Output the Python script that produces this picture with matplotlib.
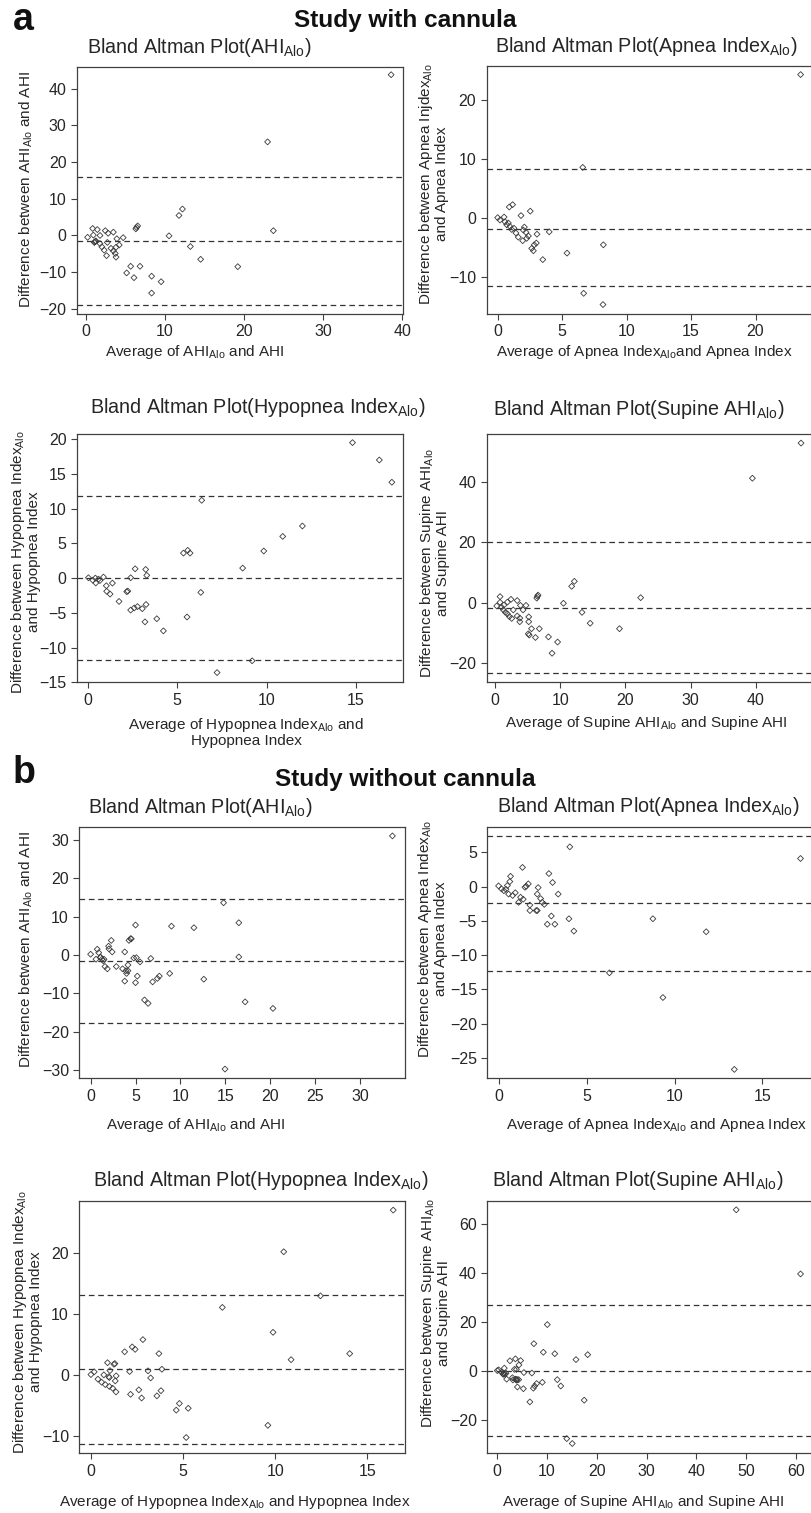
import numpy as np
import matplotlib
matplotlib.use("Agg")
import matplotlib.pyplot as plt

plt.rcParams['font.family'] = ['Liberation Sans', 'DejaVu Sans']
plt.rcParams['mathtext.fontset'] = 'custom'
plt.rcParams['mathtext.rm'] = 'Liberation Sans'
plt.rcParams['mathtext.it'] = 'Liberation Sans:italic'
plt.rcParams['mathtext.bf'] = 'Liberation Sans:bold'

W, H = 811, 1513
TXT = '#262626'
EDGE = '#3a3a3a'
SUB = r'$_{\mathrm{Alo}}$'

# --- a: study with cannula ---
ahi_c_avg = [38.6, 22.97, 23.7, 12.2, 11.76, 10.5, 13.2, 14.5, 19.2, 6.53, 6.3, 6.4, 5.14, 5.65,
             6.07, 6.83, 8.3, 8.3, 9.5, 4.7, 0.2, 0.84, 1.43, 0.93, 1.05, 1.25, 1.77, 1.77, 2.0, 2.3,
             2.6, 2.44, 2.8, 2.7, 3.46, 3.16, 3.46, 3.7, 3.8, 3.9, 4.2, 3.8, 1.2, 1.1]
ahi_c_diff = [43.8, 25.5, 1.3, 7.2, 5.45, -0.1, -3.0, -6.5, -8.5, 2.6, 1.8, 2.2, -10.2, -8.4,
              -11.5, -8.4, -11.1, -15.7, -12.6, -0.6, -0.5, 1.9, 1.6, 0.1, -1.9, -1.5, 0.0, -2.2, -3.1, -4.0,
              -5.5, 1.3, 0.6, -1.9, 0.9, -3.5, -4.2, -4.9, -5.9, -0.9, -2.6, -3.2, -1.6, -1.8]
ahi_c_lines = [15.8, -1.55, -18.9]

apnea_c_avg = [23.5, 6.6, 8.2, 6.67, 8.17, 5.38, 3.5, 4.0, 3.05, 3.0, 2.84, 2.64, 2.77, 2.53, 1.81,
               1.16, 0.9, 0.0, 0.18, 0.5, 0.57, 0.83, 0.7, 0.96, 1.09, 1.27, 1.42, 1.6, 1.99, 2.07,
               2.2, 1.94, 2.25, 2.38]
apnea_c_diff = [24.3, 8.6, -4.5, -12.7, -14.6, -5.9, -7.0, -2.3, -2.7, -4.2, -4.5, -5.1, -5.5, 1.2, 0.45,
                2.3, 1.9, 0.1, -0.3, 0.2, -0.6, -0.8, -1.1, -1.4, -1.9, -1.7, -2.5, -3.2, -2.0, -1.5,
                -2.4, -3.8, -3.4, -3.0]
apnea_c_lines = [8.3, -1.75, -11.45]

hypo_c_avg = [14.8, 16.3, 17.0, 6.37, 12.0, 10.9, 9.84, 8.66, 5.35, 5.59, 5.72, 6.32, 5.55, 7.23, 9.19,
              3.86, 4.23, 3.2, 3.26, 3.05, 2.78, 2.6, 2.4, 2.65, 3.24, 3.3, 2.4, 2.24, 2.18, 1.75, 1.38,
              1.04, 1.06, 1.25, 0.04, 0.28, 0.43, 0.45, 0.6, 0.68, 0.88]
hypo_c_diff = [19.5, 17.0, 13.8, 11.2, 7.5, 6.0, 3.9, 1.44, 3.6, 4.0, 3.6, -2.06, -5.6, -13.6, -11.9,
               -5.85, -7.6, -6.3, -3.8, -4.4, -4.1, -4.3, -4.6, 1.34, 1.25, 0.4, 0.05, -1.87, -1.95, -3.36, -0.72,
               -1.1, -1.9, -2.3, 0.05, -0.3, 0.0, -0.7, -0.15, -0.35, 0.15]
hypo_c_lines = [11.8, 0.0, -11.8]

sup_c_avg = [46.96, 39.5, 22.35, 19.1, 14.6, 13.35, 12.17, 11.76, 10.5, 9.6, 8.75, 8.2, 6.8, 6.2, 5.6,
             5.1, 5.25, 5.17, 5.17, 6.6, 6.4, 6.5, 4.75, 4.3, 3.8, 3.8, 3.4, 3.4, 3.9, 2.8, 2.45, 1.9,
             0.77, 0.26, 0.77, 1.0, 1.28, 1.59, 1.9, 2.2, 2.56, 1.36]
sup_c_diff = [52.7, 41.1, 1.65, -8.6, -6.8, -3.2, 7.05, 5.4, -0.2, -13.0, -16.7, -11.3, -8.6, -11.5, -8.6,
              -10.3, -10.7, -4.7, -6.3, 2.5, 1.5, 2.1, -0.9, -2.4, -6.3, -5.1, -4.4, 0.7, -0.9, -2.4, 1.1, 0.2,
              2.0, -1.1, 0.1, -1.5, -2.4, -3.2, -3.7, -4.6, -5.2, -0.8]
sup_c_lines = [20.0, -1.76, -23.3]

# --- b: study without cannula ---
ahi_n_avg = [33.6, 14.8, 14.96, 16.5, 16.5, 17.2, 20.3, 12.6, 11.5, 9.0, 8.8, 7.65, 7.43, 6.9, 6.7,
             6.4, 6.0, 5.5, 5.2, 5.1, 5.0, 4.8, 5.0, 4.45, 4.27, 4.53, 4.16, 4.16, 3.8, 3.8, 3.56, 3.93,
             4.0, 2.86, 2.3, 2.4, 2.0, 2.04, 1.86, 1.6, 1.26, 1.41, 1.11, 1.49, 0.74, 0.9, 1.1, 0.6, 0.0]
ahi_n_diff = [31.0, 13.6, -29.7, 8.4, -0.5, -12.2, -13.9, -6.3, 7.1, 7.5, -4.8, -5.5, -6.1, -7.0, -0.9,
              -12.6, -11.7, -1.8, -5.5, -0.7, 7.8, -0.8, -7.2, 4.25, 3.8, 4.2, -2.6, -4.1, -6.8, 0.8, -3.6, -4.1,
              -4.8, -3.0, 3.8, 0.8, 2.3, 1.6, -3.6, -3.0, -1.1, -1.5, -0.6, -1.1, 1.5, 0.6, -0.6, -1.1, 0.2]
ahi_n_lines = [14.5, -1.5, -17.8]

apnea_n_avg = [17.16, 4.05, 8.77, 11.8, 6.3, 9.34, 13.4, 1.36, 2.86, 3.07, 3.39, 4.0, 3.0, 2.77, 3.2,
               4.28, 2.25, 2.2, 2.39, 2.48, 2.6, 2.2, 2.14, 1.78, 1.78, 1.69, 1.57, 1.5, 1.4, 1.25, 1.14,
               0.95, 0.8, 0.68, 0.64, 0.5, 0.42, 0.57, 0.3, 0.0, 0.17]
apnea_n_diff = [4.1, 5.8, -4.7, -6.6, -12.6, -16.2, -26.7, 2.8, 1.9, 0.6, -1.1, -4.7, -4.3, -5.5, -5.5,
                -6.5, -0.15, -1.1, -1.75, -2.3, -2.6, -3.5, -3.5, -3.5, -2.7, 0.4, 0.05, -0.1, -1.85, -1.56, -2.3,
                -0.9, -1.3, 1.5, 0.73, 0.15, -0.4, -1.1, -0.6, 0.1, -0.34]
apnea_n_lines = [7.4, -2.4, -12.3]

hypo_n_avg = [16.4, 10.46, 12.45, 7.13, 9.88, 10.86, 14.04, 9.6, 5.17, 4.63, 4.8, 5.28, 2.82, 2.24, 2.4,
              1.83, 3.69, 3.1, 3.24, 3.85, 3.8, 3.58, 2.75, 2.6, 2.15, 2.1, 0.9, 1.3, 1.25, 1.37, 1.32,
              1.36, 1.18, 1.0, 0.78, 0.58, 0.38, 1.03, 0.7, 1.0, 0.18, 0.0, 0.97]
hypo_n_diff = [27.1, 20.25, 13.0, 11.1, 7.0, 2.5, 3.5, -8.3, -10.3, -5.8, -4.7, -5.5, 5.8, 4.6, 4.2,
               3.8, 3.5, 0.66, -0.5, 0.93, -2.6, -3.45, -3.8, -2.46, -3.2, 0.55, 2.0, 1.86, 1.75, -0.16, -1.0,
               -2.8, -2.2, -1.9, -1.6, -1.2, -0.7, 0.7, 0.0, -0.44, 0.5, 0.05, -0.3]
hypo_n_lines = [13.1, 1.0, -11.3]

sup_n_avg = [48.0, 60.9, 10.1, 7.4, 9.3, 11.6, 15.85, 18.2, 17.5, 14.0, 15.1, 12.1, 12.8, 9.1, 6.6,
             7.0, 7.3, 7.55, 7.96, 5.3, 5.4, 4.75, 4.4, 3.7, 3.9, 3.5, 4.1, 4.35, 3.95, 3.7, 2.6, 3.1,
             1.94, 1.47, 1.6, 1.8, 1.4, 0.94, 0.33, 0.07, 1.2, 3.2, 3.9, 1.3, 4.0]
sup_n_diff = [65.7, 39.5, 18.8, 11.0, 7.5, 6.9, 4.5, 6.5, -12.1, -27.8, -29.8, -3.7, -6.3, -4.8, -12.8,
              -1.0, -7.2, -6.3, -5.3, -7.4, -0.8, 4.1, 2.3, 4.8, 0.5, 0.5, -6.7, -3.7, -3.8, -3.5, 4.0, -2.9,
              -3.5, 1.0, -1.5, -1.1, -1.1, -0.7, 0.3, 0.0, -1.4, -3.8, -3.9, -1.5, -3.6]
sup_n_lines = [26.6, 0.0, -26.8]

# panel setup: data, axes box in px (left, right, top, bottom), limits, ticks, titles, labels
panels = [
    dict(x=ahi_c_avg, y=ahi_c_diff, lines=ahi_c_lines, box=(77, 403, 67, 314),
         xlim=(-1.14, 40.1), ylim=(-21.4, 45.9), xt=np.arange(0, 41, 10), yt=np.arange(-20, 41, 10),
         title=('Bland Altman Plot(AHI' + SUB + ')', 87, 52.7),
         xlab=('Average of AHI' + SUB + ' and AHI', 195, 352),
         ylab=('Difference between AHI' + SUB + ' and AHI', 26, 190)),
    dict(x=apnea_c_avg, y=apnea_c_diff, lines=apnea_c_lines, box=(486.7, 813, 66.3, 314),
         xlim=(-0.85, 24.46), ylim=(-16.2, 25.7), xt=np.arange(0, 21, 5), yt=np.arange(-10, 21, 10),
         title=('Bland Altman Plot(Apnea Index' + SUB + ')', 495, 51.7),
         xlab=('Average of Apnea Index' + SUB + 'and Apnea Index', 644, 352),
         ylab=('Difference between Apnea Injdex' + SUB + '\nand Apnea Index', 433, 184)),
    dict(x=hypo_c_avg, y=hypo_c_diff, lines=hypo_c_lines, box=(77, 403.3, 434.3, 682.3),
         xlim=(-0.6, 17.64), ylim=(-15.0, 20.7), xt=np.arange(0, 16, 5), yt=np.arange(-15, 21, 5),
         title=('Bland Altman Plot(Hypopnea Index' + SUB + ')', 90, 413.3),
         xlab=('Average of Hypopnea Index' + SUB + ' and\nHypopnea Index', 246, 732),
         ylab=('Difference between Hypopnea Index' + SUB + '\nand Hypopnea Index', 25.5, 562)),
    dict(x=sup_c_avg, y=sup_c_diff, lines=sup_c_lines, box=(486.7, 813, 434.3, 682.3),
         xlim=(-1.28, 48.8), ylim=(-26.3, 55.6), xt=np.arange(0, 41, 10), yt=np.arange(-20, 41, 20),
         title=('Bland Altman Plot(Supine AHI' + SUB + ')', 493, 415),
         xlab=('Average of Supine AHI' + SUB + ' and Supine AHI', 646, 723),
         ylab=('Difference between Supine AHI' + SUB + '\nand Supine AHI', 434, 563)),
    dict(x=ahi_n_avg, y=ahi_n_diff, lines=ahi_n_lines, box=(79.3, 405, 826.7, 1078.3),
         xlim=(-1.26, 35.0), ylim=(-32.1, 33.4), xt=np.arange(0, 31, 5), yt=np.arange(-30, 31, 10),
         title=('Bland Altman Plot(AHI' + SUB + ')', 88, 812.7),
         xlab=('Average of AHI' + SUB + ' and AHI', 196, 1125),
         ylab=('Difference between AHI' + SUB + ' and AHI', 26, 950)),
    dict(x=apnea_n_avg, y=apnea_n_diff, lines=apnea_n_lines, box=(487.3, 813, 827, 1078.3),
         xlim=(-0.64, 17.87), ylim=(-28.0, 8.7), xt=np.arange(0, 16, 5), yt=np.arange(-25, 6, 5),
         title=('Bland Altman Plot(Apnea Index' + SUB + ')', 497, 811.7),
         xlab=('Average of Apnea Index' + SUB + ' and Apnea Index', 657, 1125),
         ylab=('Difference between Apnea Index' + SUB + '\nand Apnea Index', 432, 939)),
    dict(x=hypo_n_avg, y=hypo_n_diff, lines=hypo_n_lines, box=(79.3, 405, 1201, 1453.3),
         xlim=(-0.63, 17.04), ylim=(-12.9, 28.6), xt=np.arange(0, 16, 5), yt=np.arange(-10, 21, 10),
         title=('Bland Altman Plot(Hypopnea Index' + SUB + ')', 93, 1185.7),
         xlab=('Average of Hypopnea Index' + SUB + ' and Hypopnea Index', 235, 1501.7),
         ylab=('Difference between Hypopnea Index' + SUB + '\nand Hypopnea Index', 27, 1322)),
    dict(x=sup_n_avg, y=sup_n_diff, lines=sup_n_lines, box=(487.3, 813, 1201, 1453.3),
         xlim=(-1.94, 63.4), ylim=(-33.8, 69.3), xt=np.arange(0, 61, 10), yt=np.arange(-20, 61, 20),
         title=('Bland Altman Plot(Supine AHI' + SUB + ')', 492, 1186),
         xlab=('Average of Supine AHI' + SUB + ' and Supine AHI', 643, 1501.7),
         ylab=('Difference between Supine AHI' + SUB + '\nand Supine AHI', 435, 1313)),
]

fig = plt.figure(figsize=(W / 100, H / 100), dpi=100)
fig.patch.set_facecolor('white')


def fx(px):
    return px / W


def fy(py):
    return 1 - py / H


for p in panels:
    l, r, t, b = p['box']
    ax = fig.add_axes([fx(l), fy(b), (r - l) / W, (b - t) / H])
    ax.scatter(p['x'], p['y'], marker='D', s=9, facecolors='none', edgecolors=EDGE,
               linewidths=0.6, zorder=3)
    for v in p['lines']:
        ax.axhline(v, color='#333333', lw=0.9, ls=(0, (4.5, 3)), zorder=2)
    ax.set_xlim(*p['xlim'])
    ax.set_ylim(*p['ylim'])
    ax.set_xticks(p['xt'])
    ax.set_yticks(p['yt'])
    ax.tick_params(direction='out', length=4.5, width=0.8, colors='#404040',
                   labelcolor=TXT, labelsize=11.5, pad=3)
    for s in ax.spines.values():
        s.set_color('#404040')
        s.set_linewidth(0.9)

    txt, tx, ty = p['title']
    fig.text(fx(tx), fy(ty), txt, fontsize=14.2, color=TXT, ha='left', va='baseline')
    txt, tx, ty = p['xlab']
    fig.text(fx(tx), fy(ty), txt, fontsize=11, color=TXT, ha='center', va='center',
             multialignment='center', linespacing=1.05)
    txt, tx, ty = p['ylab']
    fig.text(fx(tx), fy(ty), txt, fontsize=11, color=TXT, ha='center', va='center',
             rotation=90, multialignment='center', linespacing=1.0)

fig.text(fx(13), fy(30), 'a', fontsize=27, fontweight='bold', color='#111111', va='baseline')
fig.text(fx(405), fy(27), 'Study with cannula', fontsize=17.6, fontweight='bold',
         color='#111111', ha='center', va='baseline')
fig.text(fx(13), fy(783), 'b', fontsize=27, fontweight='bold', color='#111111', va='baseline')
fig.text(fx(405), fy(786), 'Study without cannula', fontsize=17.6, fontweight='bold',
         color='#111111', ha='center', va='baseline')

fig.savefig('out.png', dpi=100)
